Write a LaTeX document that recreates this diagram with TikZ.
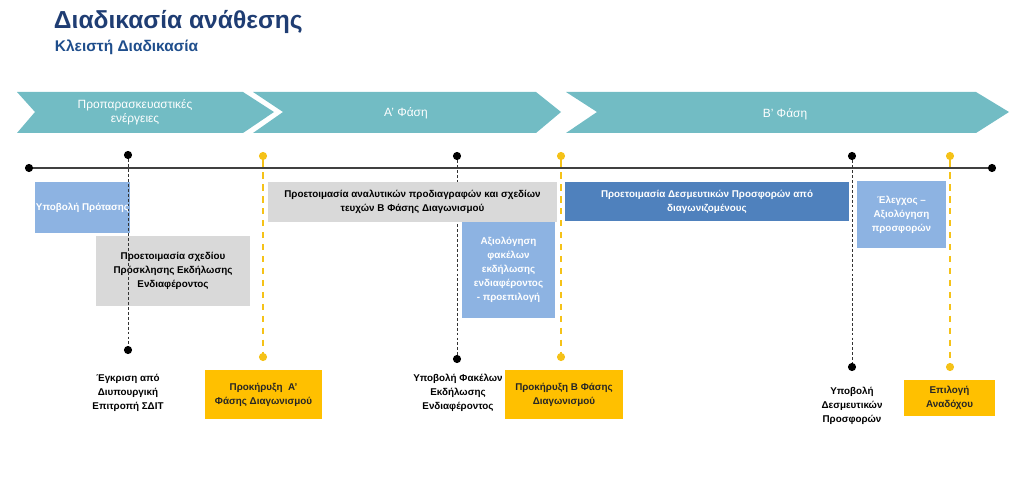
\documentclass[tikz,border=0pt]{standalone}
\usepackage{fontspec}
\setmainfont{Liberation Sans}
\usetikzlibrary{positioning}

\definecolor{phasecol}{HTML}{72BCC4}
\definecolor{titlecol}{HTML}{1F3D73}
\definecolor{subcol}{HTML}{1F4E8C}
\definecolor{lightblue}{HTML}{8DB3E2}
\definecolor{darkblue}{HTML}{4F81BD}
\definecolor{boxgray}{HTML}{D9D9D9}
\definecolor{gold}{HTML}{FFC000}
\definecolor{goldline}{HTML}{F5C218}

\tikzset{
  task/.style 2 args={rectangle, inner xsep=0.5pt, inner ysep=2pt, align=center,
    minimum width=#1*0.025cm, minimum height=#2*0.025cm,
    font=\bfseries\fontsize{7}{10}\selectfont},
  graybox/.style={fill=boxgray, text=black},
  bluebox/.style={fill=lightblue, text=white},
  darkbox/.style={fill=darkblue, text=white},
  goldbox/.style={fill=gold, text=black!85},
  eventlabel/.style={align=center, font=\bfseries\fontsize{7}{10}\selectfont},
  phaselabel/.style={align=center, text=white, font=\fontsize{8.5}{10}\selectfont},
  blackdot/.style={circle, fill=black, inner sep=0pt, minimum size=5.8pt},
  golddot/.style={circle, fill=goldline, inner sep=0pt, minimum size=5.8pt},
  blackline/.style={black!80, thin, dash pattern=on 2pt off 1.5pt},
  goldpath/.style={goldline, line width=1.6pt, dash pattern=on 4.5pt off 4pt}
}

\begin{document}
\begin{tikzpicture}[x=0.025cm, y=-0.025cm]
  \useasboundingbox (0,0) rectangle (1024,491);

  % title
  \node[anchor=west, text=titlecol, font=\bfseries\fontsize{17.5}{19}\selectfont] (title) at (49,22) {Διαδικασία ανάθεσης};
  \node[anchor=west, text=subcol, font=\bfseries\fontsize{11}{13}\selectfont] (subtitle) at (50,47) {Κλειστή Διαδικασία};

  % phases
  \fill[phasecol] (17,92) -- (243,92) -- (274,112) -- (243,133) -- (17,133) -- (35,112) -- cycle;
  \fill[phasecol] (253,92) -- (536,92) -- (561,112) -- (536,133) -- (253,133) -- (283,112) -- cycle;
  \fill[phasecol] (566,92) -- (976,92) -- (1009,112) -- (976,133) -- (566,133) -- (597,112) -- cycle;
  \node[phaselabel] (prep) at (135,112) {Προπαρασκευαστικές\\ενέργειες};
  \node[phaselabel] (phaseA) at (406,113) {Α' Φάση};
  \node[phaselabel] (phaseB) at (785,114) {Β' Φάση};

  % timeline
  \node[blackdot] (start) at (29,168) {};
  \node[blackdot] (end) at (992,168) {};
  \draw[black!75, line width=0.8pt] (start) -- (end);

  % milestones
  \node[blackdot] (m1top) at (128,155) {};
  \node[blackdot] (m1bot) at (128,350) {};
  \node[blackdot] (m2top) at (457,156) {};
  \node[blackdot] (m2bot) at (457,359) {};
  \node[blackdot] (m3top) at (852,156) {};
  \node[blackdot] (m3bot) at (852,367) {};
  \node[golddot] (g1top) at (263,156) {};
  \node[golddot] (g1bot) at (263,357) {};
  \node[golddot] (g2top) at (561,156) {};
  \node[golddot] (g2bot) at (561,357) {};
  \node[golddot] (g3top) at (950,156) {};
  \node[golddot] (g3bot) at (950,367) {};

  \draw[blackline] (m2top) -- (m2bot);

  % tasks
  \node[task={91}{51}, bluebox] (proposal) at (82.5,207.5) {Υποβολή Πρότασης};
  \node[task={154}{70}, graybox] (draftcall) at (173,271) {Προετοιμασία σχεδίου\\Πρόσκλησης Εκδήλωσης\\Ενδιαφέροντος};
  \node[task={289}{40}, graybox] (specs) at (412.5,202) {Προετοιμασία αναλυτικών προδιαγραφών και σχεδίων\\τευχών Β Φάσης Διαγωνισμού};
  \node[task={93}{96}, bluebox] (shortlist) at (508.5,270) {Αξιολόγηση\\φακέλων\\εκδήλωσης\\ενδιαφέροντος\\- προεπιλογή};
  \node[task={284}{39}, darkbox] (offers) at (707,201.5) {Προετοιμασία Δεσμευτικών Προσφορών από\\διαγωνιζομένους};
  \node[task={89}{67}, bluebox] (review) at (901.5,214.5) {Έλεγχος –\\Αξιολόγηση\\προσφορών};

  \draw[blackline] (m1top) -- (m1bot);
  \draw[blackline] (m3top) -- (m3bot);
  \draw[goldpath] (g1top) -- (g1bot);
  \draw[goldpath] (g2top) -- (g2bot);
  \draw[goldpath] (g3top) -- (g3bot);

  % events
  \node[eventlabel] (approval) at (128,393) {Έγκριση από\\Διυπουργική\\Επιτροπή ΣΔΙΤ};
  \node[eventlabel] (submitA) at (458,393) {Υποβολή Φακέλων\\Εκδήλωσης\\Ενδιαφέροντος};
  \node[eventlabel] (submitB) at (852,406) {Υποβολή\\Δεσμευτικών\\Προσφορών};
  \node[task={117}{49}, goldbox] (noticeA) at (263.5,394.5) {Προκήρυξη~~Α'\\Φάσης Διαγωνισμού};
  \node[task={118}{49}, goldbox] (noticeB) at (564,394.5) {Προκήρυξη Β Φάσης\\Διαγωνισμού};
  \node[task={91}{36}, goldbox] (award) at (949.5,398) {Επιλογή\\Αναδόχου};
\end{tikzpicture}
\end{document}
